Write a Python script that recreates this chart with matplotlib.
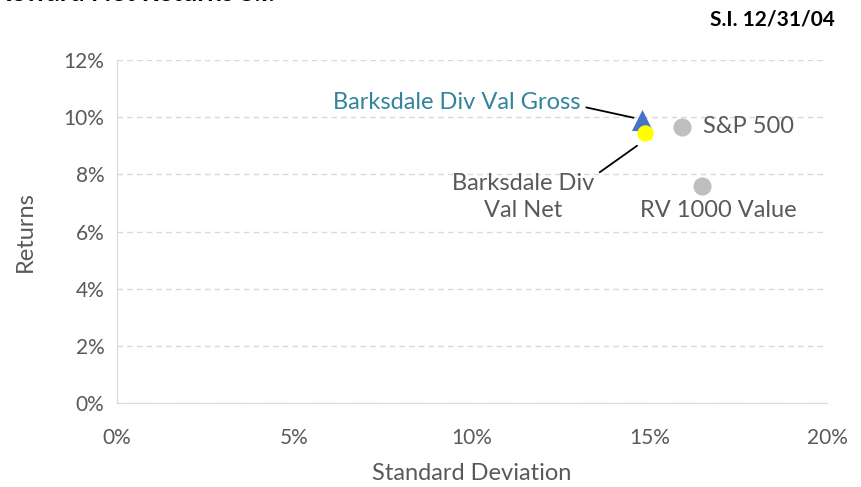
import matplotlib
matplotlib.use("Agg")
import matplotlib.pyplot as plt
from matplotlib.ticker import FuncFormatter

plt.rcParams['font.family'] = ['Lato', 'DejaVu Sans']

names = ["Barksdale Div Val Gross", "Barksdale Div Val Net", "S&P 500", "RV 1000 Value"]
std_dev = [14.8, 14.87, 15.92, 16.48]
returns = [9.9, 9.45, 9.66, 7.59]
xticks = [0, 5, 10, 15, 20]
yticks = [0, 2, 4, 6, 8, 10, 12]

grey = "#595959"
fs = 17
fig = plt.figure(figsize=(8.62, 4.87), dpi=100)
ax = fig.add_axes([117/862, 1-403/487, 710/862, 343/487])

ax.scatter(std_dev[2:], returns[2:], s=170, color="#BFBFBF", zorder=3, linewidths=0)
ax.scatter([std_dev[0]], [returns[0]], s=230, marker="^", color="#4472C4", zorder=3, linewidths=0)
ax.scatter([std_dev[1]], [returns[1]], s=140, color="#FFFF00", zorder=4, linewidths=0)

ax.set_xlim(0, 20); ax.set_ylim(0, 12)
ax.set_xticks(xticks); ax.set_yticks(yticks)
ax.xaxis.set_major_formatter(FuncFormatter(lambda v, p: f"{v:.0f}%"))
ax.yaxis.set_major_formatter(FuncFormatter(lambda v, p: f"{v:.0f}%"))
ax.grid(axis="y", color="#D9D9D9", ls=(0, (4, 3)), lw=1)
ax.set_axisbelow(True)
for s in ["top", "right"]: ax.spines[s].set_visible(False)
for s in ["left", "bottom"]: ax.spines[s].set_color("#D9D9D9")
ax.tick_params(length=0, labelsize=15, colors=grey)
ax.tick_params(axis="x", pad=18)
ax.tick_params(axis="y", pad=9)
ax.set_xlabel("Standard Deviation", fontsize=fs, color=grey, labelpad=11)
ax.set_ylabel("Returns", fontsize=fs, color=grey, labelpad=20)

ax.annotate(names[0], xy=(std_dev[0]-0.25, returns[0]+0.08), xytext=(9.58, 10.53),
            fontsize=fs, color="#31849B", ha="center", va="center",
            arrowprops=dict(arrowstyle="-", color="black", lw=1.3, shrinkA=2, shrinkB=0,
                            relpos=(1.0, 0.3)))
ax.annotate("Barksdale Div\nVal Net", xy=(std_dev[1]-0.22, returns[1]-0.45), xytext=(11.45, 7.2),
            fontsize=fs, color=grey, ha="center", va="center", linespacing=1.32,
            arrowprops=dict(arrowstyle="-", color="black", lw=1.3, shrinkA=2, shrinkB=0,
                            relpos=(1.0, 0.95)))
ax.text(16.5, returns[2], names[2], fontsize=fs, color=grey, ha="left", va="center")
ax.text(16.93, 6.72, names[3], fontsize=fs, color=grey, ha="center", va="center")

fig.text(835/862, 1-20/487, "S.I. 12/31/04", fontsize=15, fontweight="bold", ha="right", va="center")
fig.text(275/862, 1-1/487, "Risk/Reward Net Returns S.I.", fontsize=19, fontweight="bold",
         ha="right", va="baseline")

fig.savefig("out.png", dpi=100)
